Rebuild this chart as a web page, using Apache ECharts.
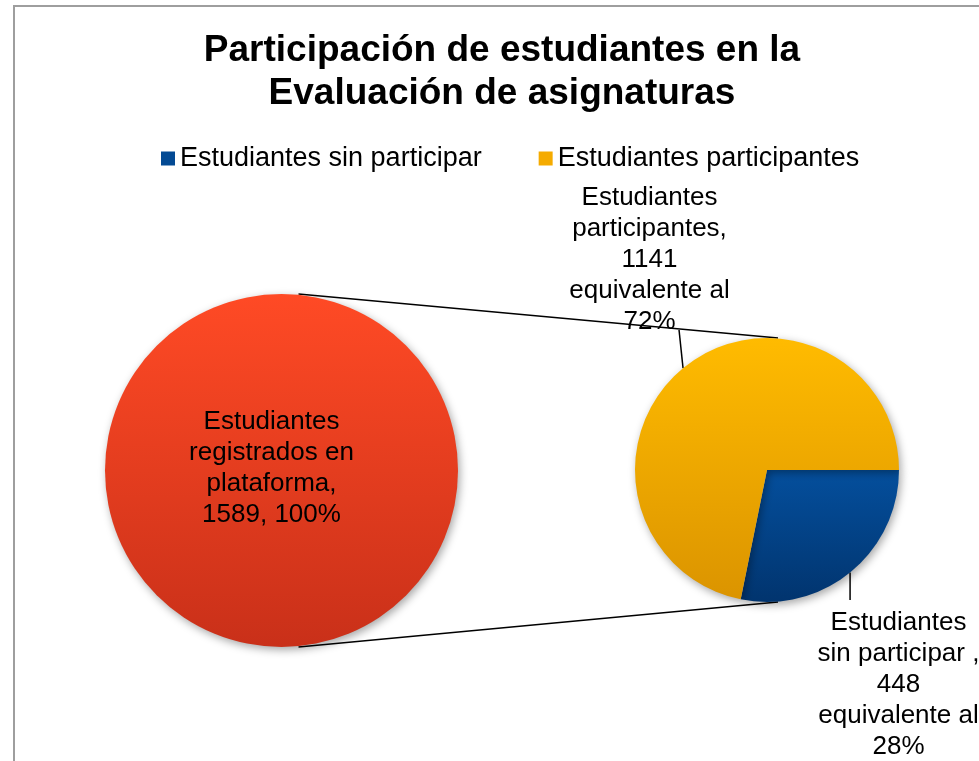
<!DOCTYPE html>
<html>
<head>
<meta charset="utf-8">
<script src="https://cdn.jsdelivr.net/npm/echarts@6/dist/echarts.min.js"></script>
<style>
  html, body { margin: 0; padding: 0; background: #fff; }
  #chart { width: 979px; height: 761px; }
</style>
</head>
<body>
<div id="chart"></div>
<script>
// datos
var totalName = 'Estudiantes registrados en plataforma';
var totalValue = [1589];
var partNames = ['Estudiantes sin participar', 'Estudiantes participantes'];
var partValues = [448, 1141];

var FONT = '"Liberation Sans", Arial, sans-serif';
var big = { cx: 281.5, cy: 470.5, r: 176.5 };
var small = { cx: 767, cy: 470, r: 132 };

function grad(top, bottom) {
    return new echarts.graphic.LinearGradient(0, 0, 0, 1, [
        { offset: 0, color: top },
        { offset: 1, color: bottom }
    ]);
}

var partColors = [grad('#044f9d', '#01346e'), grad('#ffbb00', '#db9400')];
var legendColors = ['#034a94', '#f5ab00'];

// posicion de etiquetas del pie pequeño
var labelPos = [[898.5, 685], [649.5, 260]];

var chart = echarts.init(document.getElementById('chart'));

// punto sobre el borde del pie pequeño segun angulo (grados, horario desde las 3)
function edge(deg) {
    var a = deg * Math.PI / 180;
    return [small.cx + small.r * Math.cos(a), small.cy + small.r * Math.sin(a)];
}
var leadBlue = edge(51);
var leadYellow = edge(230.5);

var option = {
    backgroundColor: '#fff',
    animation: false,
    title: {
        text: 'Participación de estudiantes en la\nEvaluación de asignaturas',
        left: 497,
        top: 24,
        textAlign: 'center',
        textStyle: {
            fontFamily: FONT,
            fontSize: 37,
            fontWeight: 'bold',
            lineHeight: 43,
            color: '#000'
        }
    },
    legend: {
        data: partNames.map(function (n, i) {
            return { name: n, itemStyle: { color: legendColors[i] } };
        }),
        left: 156,
        top: 140,
        icon: 'rect',
        itemWidth: 14,
        itemHeight: 14,
        itemGap: 57,
        textStyle: { fontFamily: FONT, fontSize: 27, color: '#000' }
    },
    graphic: [
        {
            type: 'rect', silent: true, z: -1,
            shape: { x: 14, y: 6, width: 1200, height: 1200 },
            style: { fill: null, stroke: '#9e9e9e', lineWidth: 2 }
        },
        {
            type: 'line', silent: true,
            shape: { x1: big.cx + 17, y1: big.cy - big.r, x2: small.cx + 11, y2: small.cy - small.r },
            style: { stroke: '#000', lineWidth: 1.5 }
        },
        {
            type: 'line', silent: true,
            shape: { x1: big.cx + 17, y1: big.cy + big.r, x2: small.cx + 11, y2: small.cy + small.r },
            style: { stroke: '#000', lineWidth: 1.5 }
        },
        {
            type: 'line', silent: true,
            shape: { x1: leadYellow[0], y1: leadYellow[1], x2: leadYellow[0] - 4, y2: 330 },
            style: { stroke: '#000', lineWidth: 1.5 }
        },
        {
            type: 'line', silent: true,
            shape: { x1: leadBlue[0], y1: leadBlue[1], x2: leadBlue[0], y2: 600 },
            style: { stroke: '#000', lineWidth: 1.5 }
        }
    ],
    series: [
        {
            name: 'total',
            type: 'pie',
            center: [big.cx, big.cy],
            radius: big.r,
            startAngle: 90,
            silent: true,
            percentPrecision: 0,
            data: [{ name: totalName, value: totalValue[0] }],
            itemStyle: {
                color: grad('#ff4a25', '#c93019'),
                shadowBlur: 8,
                shadowColor: 'rgba(0,0,0,0.35)',
                shadowOffsetX: 2,
                shadowOffsetY: 3
            },
            label: {
                position: 'center',
                offset: [-10, -2],
                fontFamily: FONT,
                fontSize: 26,
                lineHeight: 31,
                color: '#000',
                formatter: function (p) {
                    return 'Estudiantes\nregistrados en\nplataforma,\n' + p.value + ', ' + p.percent + '%';
                }
            },
            labelLine: { show: false }
        },
        {
            name: 'partes',
            type: 'pie',
            center: [small.cx, small.cy],
            radius: small.r,
            startAngle: 0,
            clockwise: true,
            silent: true,
            percentPrecision: 0,
            avoidLabelOverlap: false,
            data: partValues.map(function (v, i) {
                return { name: partNames[i], value: v, itemStyle: { color: partColors[i] } };
            }),
            itemStyle: {
                shadowBlur: 8,
                shadowColor: 'rgba(0,0,0,0.35)',
                shadowOffsetX: 2,
                shadowOffsetY: 3
            },
            label: {
                position: 'outside',
                overflow: 'none',
                width: 220,
                fontFamily: FONT,
                fontSize: 26,
                lineHeight: 31,
                color: '#000',
                align: 'center',
                formatter: function (p) {
                    var parts = p.name.split(' ');
                    var first = parts.shift();
                    var rest = parts.join(' ') + (p.dataIndex === 0 ? ' ,' : ',');
                    return first + '\n' + rest + '\n' + p.value + '\nequivalente al\n' + p.percent + '%';
                }
            },
            labelLine: { show: false },
            labelLayout: function (params) {
                var pos = labelPos[params.dataIndex];
                return { x: pos[0], y: pos[1], align: 'center', verticalAlign: 'middle' };
            }
        }
    ]
};

chart.setOption(option);
</script>
</body>
</html>
